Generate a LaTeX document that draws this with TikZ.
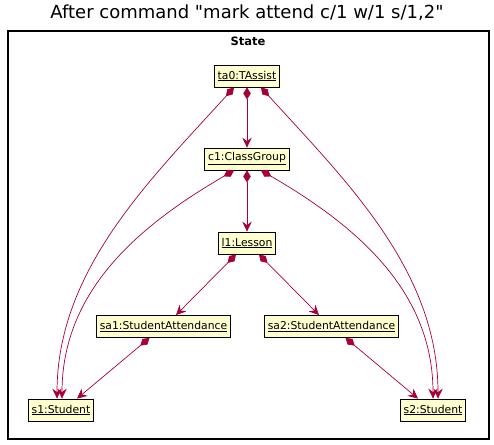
\documentclass[tikz,border=0pt]{standalone}
\usepackage{fontspec}
\setmainfont{DejaVu Sans}
\newfontfamily\plainfont{DejaVu Sans}
\usetikzlibrary{arrows.meta}
\definecolor{plred}{HTML}{A80036}
\definecolor{plfill}{HTML}{FEFECE}
\begin{document}
\begin{tikzpicture}[x=1pt,y=-1pt,
  obj/.style={draw=black, fill=plfill, line width=0.8pt, minimum height=22pt,
    inner xsep=3.5pt, inner ysep=0pt, font=\fontsize{10.8}{12}\selectfont},
  comp/.style={draw=plred, line width=0.7pt,
    {Diamond[length=12pt,width=7.5pt,fill=plred]}-{Stealth[length=10pt,width=9.5pt,inset=3.5pt,fill=plred]}}]
\useasboundingbox (0,0) rectangle (494,444);
\draw[line width=1.4pt] (8,31) rectangle (489,439);
\node[font=\plainfont\fontsize{18}{20}\selectfont] (title) at (247,13) {After command "mark attend c/1 w/1 s/1,2"};
\node[font=\bfseries\fontsize{11.5}{12}\selectfont] (state) at (248,41) {State};

\node[obj] (ta0) at (247,76) {\underline{ta0:TAssist}};
\node[obj] (c1) at (247,159) {\underline{c1:ClassGroup}};
\node[obj] (l1) at (247,243) {\underline{l1:Lesson}};
\node[obj] (sa1) at (163.5,326.5) {\underline{sa1:StudentAttendance}};
\node[obj] (sa2) at (331.5,326.5) {\underline{sa2:StudentAttendance}};
\node[obj] (s1) at (61,410) {\underline{s1:Student}};
\node[obj] (s2) at (433,410) {\underline{s2:Student}};

\draw[comp] (ta0.south) -- (c1.north);
\draw[comp] (c1.south) -- (l1.north);
\draw[comp] ([xshift=-13pt]ta0.south) .. controls (150,180) and (57,270) .. ([xshift=-4pt]s1.north);
\draw[comp] ([xshift=14pt]ta0.south) .. controls (345,180) and (438,270) .. ([xshift=5pt]s2.north);
\draw[comp] ([xshift=-13pt]c1.south) .. controls (140,225) and (62,290) .. ([xshift=1pt]s1.north);
\draw[comp] ([xshift=14pt]c1.south) .. controls (355,225) and (433,290) .. ([xshift=0pt]s2.north);
\draw[comp] ([xshift=-11pt]l1.south) -- ([xshift=12.5pt]sa1.north);
\draw[comp] ([xshift=12pt]l1.south) -- ([xshift=-12.5pt]sa2.north);
\draw[comp] ([xshift=-14pt]sa1.south) -- ([xshift=16pt]s1.north);
\draw[comp] ([xshift=14pt]sa2.south) -- ([xshift=-15pt]s2.north);
\end{tikzpicture}
\end{document}
